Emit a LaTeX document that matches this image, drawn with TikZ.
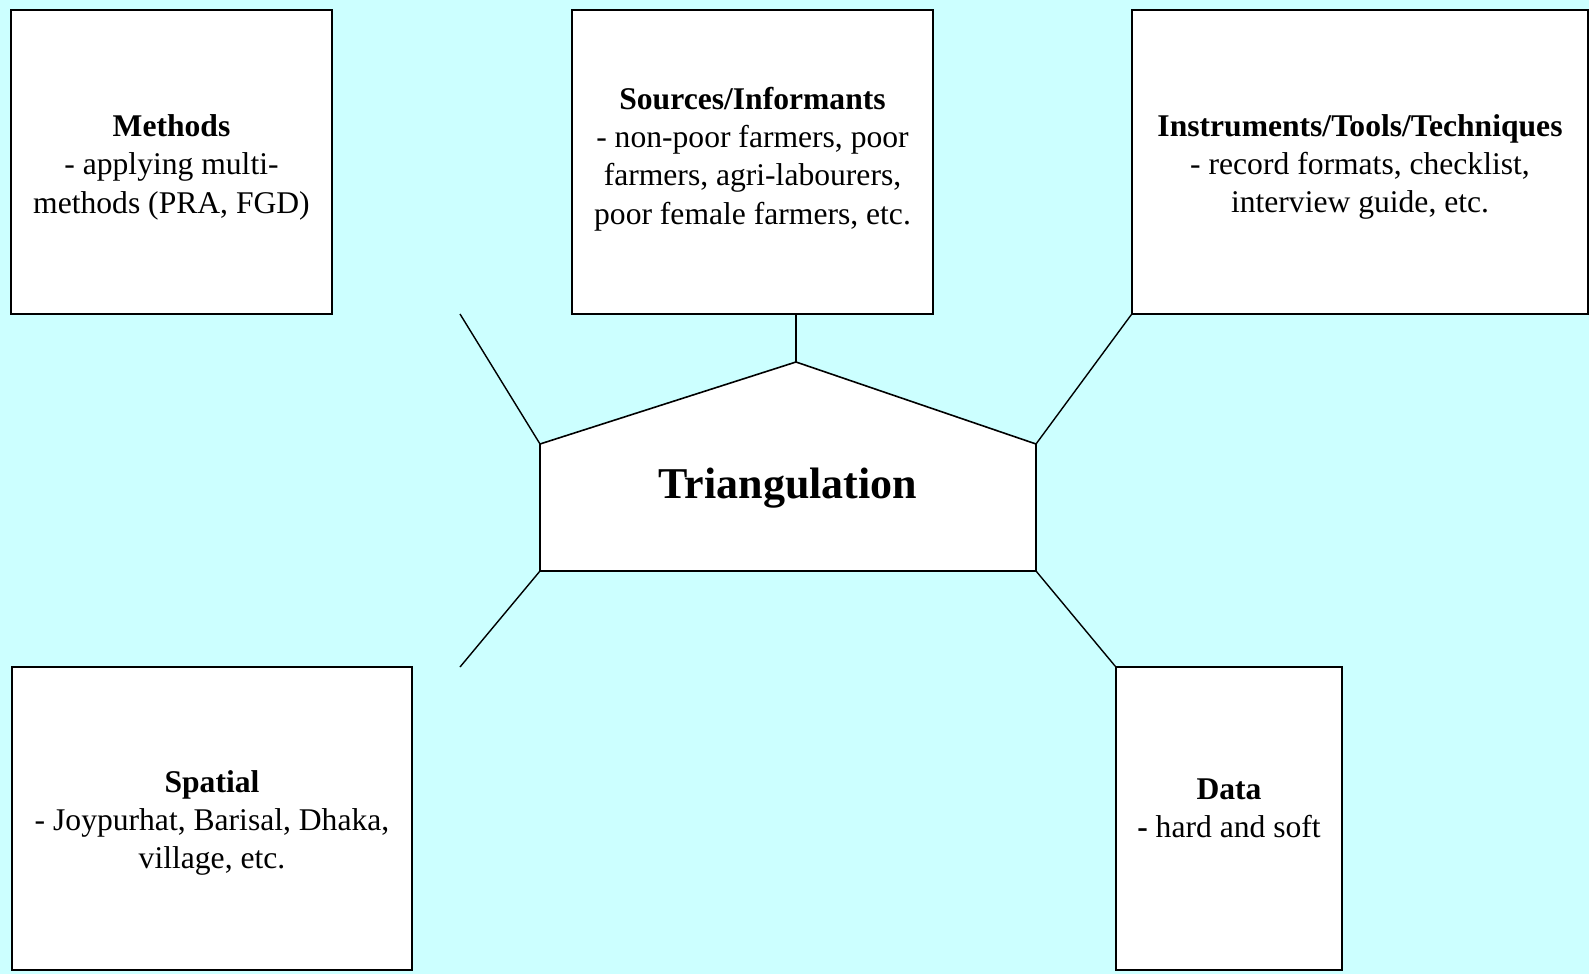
\documentclass[tikz,border=0pt]{standalone}
\usepackage{fontspec}
\setmainfont{Liberation Serif}
\definecolor{bgcyan}{HTML}{CCFFFF}
\tikzset{
  box/.style={draw=black, fill=white, line width=0.8pt, inner sep=0pt},
  lbl/.style={inner sep=0pt, align=center, font=\fontsize{15.8}{19.2}\selectfont},
  link/.style={draw=black, line width=0.7pt},
}
\begin{document}
\begin{tikzpicture}[x=0.5pt,y=-0.5pt]
\path[fill=bgcyan,use as bounding box] (0,0) rectangle (1589,974);
% boxes
\node[box, minimum width=160.5pt, minimum height=152pt] (methods) at (171.5,162) {};
\node[lbl] (methodsT) at (171.5,167) {\textbf{Methods}\\- applying multi-\\methods (PRA, FGD)};
\node[box, minimum width=180.5pt, minimum height=152pt] (sources) at (752.5,162) {};
\node[lbl] (sourcesT) at (752.5,159) {\textbf{Sources/Informants}\\- non-poor farmers, poor\\farmers, agri-labourers,\\poor female farmers, etc.};
\node[box, minimum width=228pt, minimum height=152pt] (instr) at (1360,162) {};
\node[lbl] (instrT) at (1360,167) {\textbf{Instruments/Tools/Techniques}\\- record formats, checklist,\\interview guide, etc.};
\node[box, minimum width=200pt, minimum height=151.5pt] (spatial) at (212,818.5) {};
\node[lbl] (spatialT) at (212,823) {\textbf{Spatial}\\- Joypurhat, Barisal, Dhaka,\\village, etc.};
\node[box, minimum width=113pt, minimum height=151.5pt] (data) at (1229,818.5) {};
\node[lbl] (dataT) at (1229,808) {\textbf{Data}\\\textbf{-} hard and soft};
% pentagon
\coordinate (pl) at (540,444);
\coordinate (pa) at (796,362);
\coordinate (pr) at (1036,444);
\coordinate (pbr) at (1036,571);
\coordinate (pbl) at (540,571);
\draw[fill=white, line width=0.8pt] (pl) -- (pa) -- (pr) -- (pbr) -- (pbl) -- cycle;
\node[font=\fontsize{22}{26}\selectfont\bfseries, inner sep=0pt] (tri) at (788,488) {Triangulation};
% free ends
\coordinate (ful) at (460,314);
\coordinate (fll) at (460,667);
\coordinate (sfoot) at (pa |- sources.south);
% connectors
\draw[link] (sfoot) -- (pa);
\draw[link] (ful) -- (pl);
\draw[link] (instr.south west) -- (pr);
\draw[link] (pbl) -- (fll);
\draw[link] (pbr) -- (data.north west);
\end{tikzpicture}
\end{document}
